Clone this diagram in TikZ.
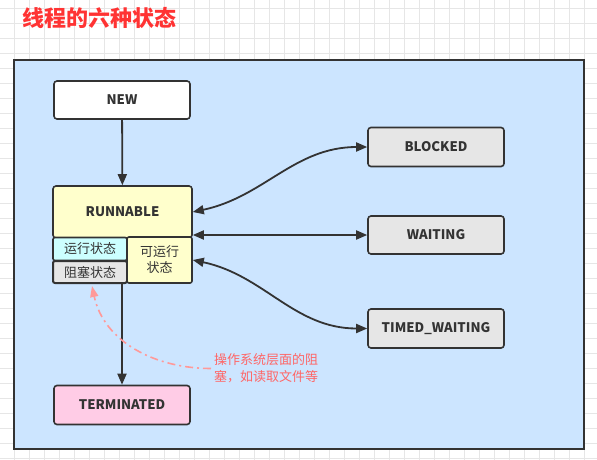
\documentclass[tikz,border=0pt]{standalone}
\usepackage{fontspec}
\setmainfont{Noto Sans CJK SC}
\usepackage{xcolor}
\usetikzlibrary{arrows.meta,positioning}

\definecolor{boardblue}{RGB}{204,229,255}
\definecolor{linegray}{RGB}{51,51,51}
\definecolor{gridgray}{RGB}{230,230,230}
\definecolor{runyellow}{RGB}{255,255,204}
\definecolor{runcyan}{RGB}{204,255,255}
\definecolor{stategray}{RGB}{230,230,230}
\definecolor{endpink}{RGB}{255,204,230}
\definecolor{titlered}{RGB}{255,51,51}
\definecolor{notered}{RGB}{255,102,102}
\definecolor{notepink}{RGB}{255,153,153}

\begin{document}
\begin{tikzpicture}[
    x=1pt, y=-1pt,
    gridline/.style={draw=gridgray, line width=0.8pt},
    board/.style={rectangle, draw=linegray, fill=boardblue, line width=2.5pt, minimum width=570pt, minimum height=389pt},
    state/.style={rectangle, rounded corners=3pt, draw=linegray, line width=1.6pt, minimum width=136pt, minimum height=38pt, text=linegray, font=\fontsize{13.2}{15}\selectfont\bfseries},
    part/.style={rectangle, rounded corners=2pt, draw=linegray, line width=1.6pt, inner sep=0pt, text=linegray, font=\fontsize{13}{16}\selectfont, align=center},
    arrow/.style={-{Triangle[length=11pt,width=9pt]}, line width=1.8pt, draw=linegray},
    dblarrow/.style={{Triangle[length=11pt,width=9pt]}-{Triangle[length=11pt,width=9pt]}, line width=1.8pt, draw=linegray},
    notearrow/.style={-{Triangle[length=11pt,width=8pt,fill=notepink]}, line width=1.6pt, draw=notepink, dash pattern=on 8pt off 4pt on 2pt off 4pt}
]
    \useasboundingbox (0,0) rectangle (597,460);
    \fill[white] (0,0) rectangle (597,460);
    \foreach \x in {14,29,...,599} \draw[gridline] (\x,0) -- (\x,460);
    \foreach \y in {8,23,...,458} \draw[gridline] (0,\y) -- (597,\y);

    \node[text=titlered, font=\fontsize{22}{26}\selectfont\bfseries] (title) at (99,18) {线程的六种状态};
    \node[board] (board) at (299,254.5) {};

    \node[state, fill=white] (new) at (122,100) {NEW};
    \node[state, fill=runyellow, minimum width=139pt, minimum height=52pt] (runnable) at (122.5,212) {RUNNABLE};
    \node[part, fill=runcyan, minimum width=74pt, minimum height=23pt] (running) at (90,249) {运行状态};
    \node[part, fill=stategray, minimum width=74pt, minimum height=22pt, line width=2pt] (osblock) at (90,272) {阻塞状态};
    \node[part, fill=runyellow, minimum width=65pt, minimum height=46pt] (ready) at (159.5,260) {可运行\\状态};
    \node[state, fill=endpink, minimum height=39pt] (terminated) at (122,405) {TERMINATED};

    \node[state, fill=stategray, minimum height=39pt] (blocked) at (436,147) {BLOCKED};
    \node[state, fill=stategray] (waiting) at (436,235) {WAITING};
    \node[state, fill=stategray, minimum height=39pt] (timed) at (436,328.5) {TIMED\_WAITING};

    \node[text=notered, font=\fontsize{13}{17}\selectfont, align=left, anchor=west, inner sep=3pt] (note) at (211,368.5) {操作系统层面的阻\\塞，如读取文件等};

    \draw[arrow] (new) -- (runnable);
    \draw[arrow] (osblock.south -| terminated.north) -- (terminated.north);
    \draw[dblarrow] (runnable.east) to[out=12, in=180] (blocked.west);
    \draw[dblarrow] (waiting.west -| runnable.east) -- (waiting.west);
    \draw[dblarrow] (ready.east) to[out=-12, in=180] (timed.west);
    \draw[notearrow] (note.west) to[out=180, in=-78] ([xshift=2pt, yshift=-2pt]osblock.south);
\end{tikzpicture}
\end{document}
